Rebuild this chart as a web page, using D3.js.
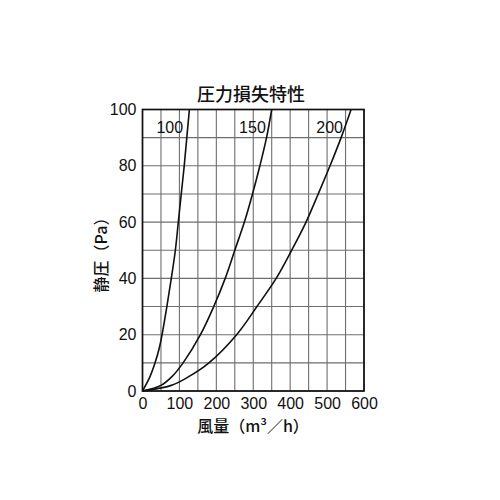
<!DOCTYPE html>
<html><head><meta charset="utf-8">
<script src="https://cdn.jsdelivr.net/npm/d3@7"></script>
<style>
body{margin:0;background:#fff;}
svg{display:block;}
text{font-family:"Liberation Sans","Noto Sans CJK JP",sans-serif;fill:#111;}
.jp{font-family:"Noto Sans CJK JP",sans-serif;}
</style></head>
<body>
<svg id="c" width="500" height="500"></svg>
<script>
const title = "圧力損失特性";
const yLabel = "静圧（Pa）";
const xLabel = "風量（m³／h）";
const xTicks = [0,100,200,300,400,500,600];
const yTicks = [0,20,40,60,80,100];
const xGrid = d3.range(0,601,50);
const yGrid = d3.range(0,101,10);
const curveNames = ["100","150","200"];
const p100 = [0, 5, 10, 15, 20, 30, 40, 50, 60, 70, 80, 90, 100];
const q100 = [0, 20, 34, 45, 53, 66, 78, 89, 97, 105, 113, 120, 127];
const p150 = [0, 2, 5, 10, 20, 30, 40, 50, 60, 70, 80, 90, 100];
const q150 = [0, 50, 79, 110, 157, 193, 224, 250, 276, 298, 318, 336, 350];
const p200 = [0, 2, 5, 10, 20, 30, 40, 50, 60, 70, 80, 90, 100];
const q200 = [0, 78, 124, 180, 255, 310, 362, 404, 443, 476, 508, 538, 565];
const labelQ = [110, 334, 543];

const svg = d3.select("#c");
const x = d3.scaleLinear().domain([0,600]).range([142.5,364]);
const y = d3.scaleLinear().domain([0,100]).range([391,109.5]);

const g = svg.append("g");
g.selectAll(".vg").data(xGrid).join("line")
  .attr("x1",d=>x(d)).attr("x2",d=>x(d)).attr("y1",y(0)).attr("y2",y(100))
  .attr("stroke","#6e6e6e").attr("stroke-width",1.1);
g.selectAll(".hg").data(yGrid).join("line")
  .attr("y1",d=>y(d)).attr("y2",d=>y(d)).attr("x1",x(0)).attr("x2",x(600))
  .attr("stroke","#6e6e6e").attr("stroke-width",1.1);

const line = d3.line().x(d=>x(d[0])).y(d=>y(d[1])).curve(d3.curveCatmullRom.alpha(0.5));
const series = [[q100,p100],[q150,p150],[q200,p200]];
series.forEach(([qs,ps])=>{
  g.append("path").datum(qs.map((q,i)=>[q,ps[i]]))
   .attr("d",line).attr("fill","none").attr("stroke","#111").attr("stroke-width",1.6);
});

g.append("rect").attr("x",x(0)).attr("y",y(100)).attr("width",x(600)-x(0)).attr("height",y(0)-y(100))
  .attr("fill","none").attr("stroke","#111").attr("stroke-width",1.7);

curveNames.forEach((n,i)=>{
  g.append("text").attr("x",x(labelQ[i])).attr("y",y(93)+4).attr("text-anchor","end")
   .attr("font-size",16).text(n);
});

const xa = svg.append("g").attr("transform",`translate(0,${y(0)})`)
  .call(d3.axisBottom(x).tickValues(xTicks).tickSize(0).tickPadding(7));
xa.select(".domain").remove();
xa.selectAll("text").attr("font-size",16).attr("font-family","Liberation Sans").attr("fill","#111");
const ya = svg.append("g").attr("transform",`translate(${x(0)},0)`)
  .call(d3.axisLeft(y).tickValues(yTicks).tickSize(0).tickPadding(6));
ya.select(".domain").remove();
ya.selectAll("text").attr("font-size",16).attr("font-family","Liberation Sans").attr("fill","#111");

svg.append("text").attr("class","jp").attr("x",251).attr("y",101).attr("text-anchor","middle")
  .attr("font-size",18).attr("font-weight",500).text(title);
svg.append("text").attr("class","jp").attr("x",253).attr("y",432).attr("text-anchor","middle")
  .attr("font-size",16).attr("font-weight",500).text(xLabel);
svg.append("text").attr("class","jp").attr("transform","translate(107,251) rotate(-90)")
  .attr("text-anchor","middle").attr("font-size",16).attr("font-weight",500).text(yLabel);
</script>
</body></html>
